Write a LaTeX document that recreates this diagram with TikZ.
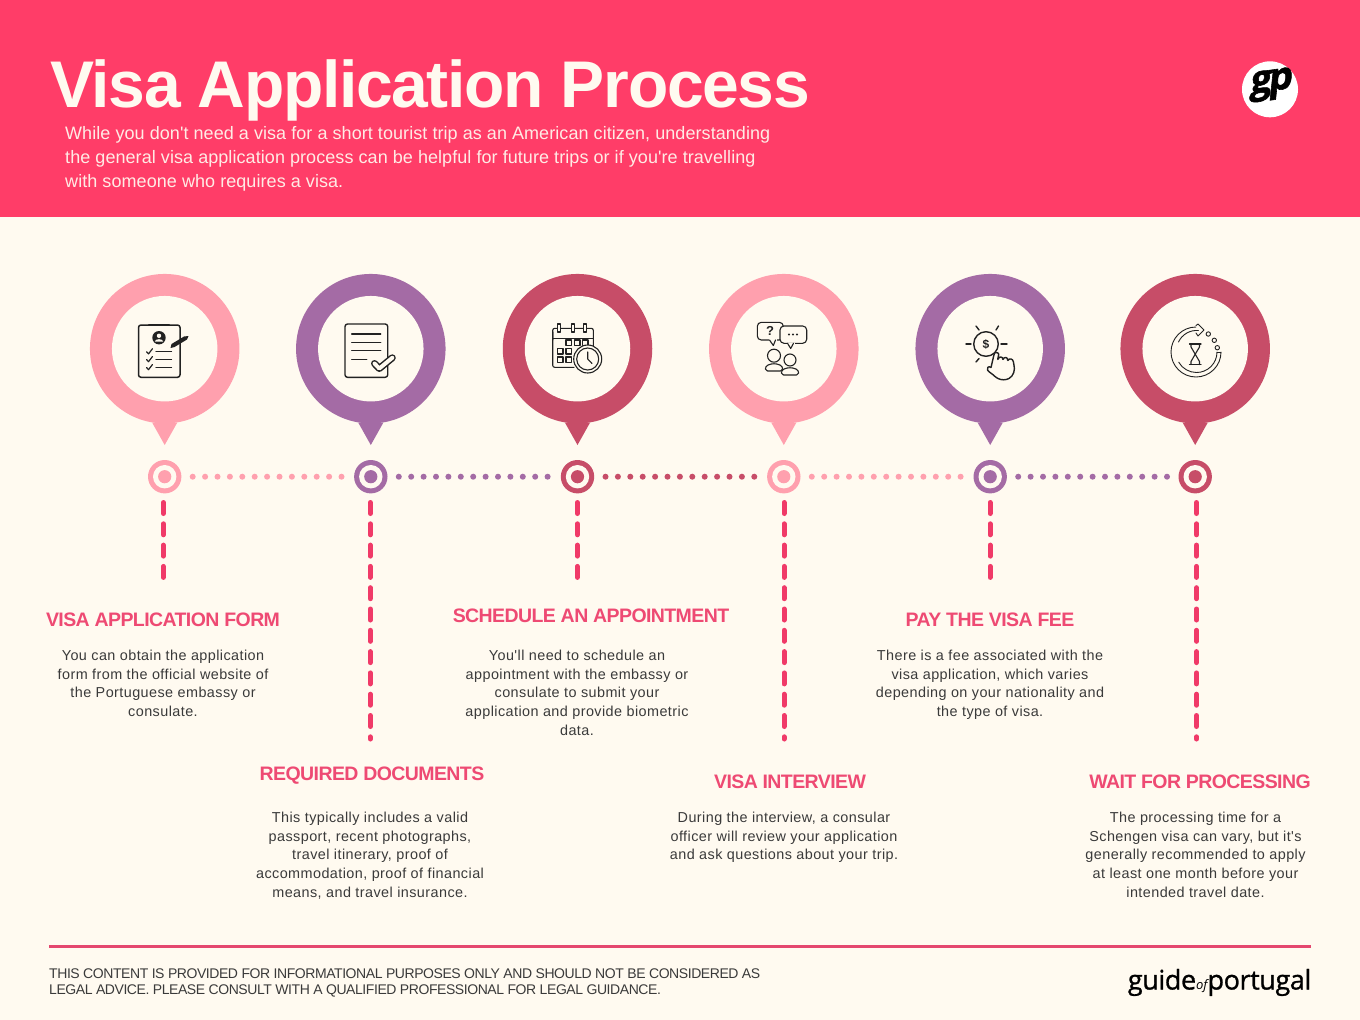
\documentclass[tikz,border=0pt]{standalone}
\usepackage{fontspec}
\usetikzlibrary{calc}
\setmainfont{Liberation Sans}
\newfontfamily\titlef{Liberation Sans Bold}[LetterSpace=-2]
\newfontfamily\headf{Liberation Sans Bold}[LetterSpace=-3]
\newfontfamily\introf{Liberation Sans}[LetterSpace=0.4]
\newfontfamily\bodyf{Liberation Sans}[LetterSpace=3]
\newfontfamily\footf{Liberation Sans}[LetterSpace=-3.1]
\newfontfamily\markf{Open Sans}[FakeBold=1,LetterSpace=-1.5]
\newfontfamily\markof{Open Sans Italic}
\newfontfamily\logof{Open Sans Bold}[FakeSlant=0.25,FakeBold=1.5,LetterSpace=-8]
\definecolor{hdr}{HTML}{FF3D68}
\definecolor{paper}{HTML}{FFFAF0}
\definecolor{pinkc}{HTML}{FFA0AE}
\definecolor{purpc}{HTML}{A46BA5}
\definecolor{rosec}{HTML}{C74D68}
\definecolor{dashc}{HTML}{F03A68}
\definecolor{headc}{HTML}{EE4A73}
\definecolor{bodyc}{HTML}{3A3A3A}
\definecolor{rulec}{HTML}{E4476F}
\definecolor{inkc}{HTML}{222222}
\tikzset{
 x=1pt,y=-1pt,
 pinout/.style={circle,minimum size=149.5pt,inner sep=0pt,fill=#1},
 pinin/.style={circle,minimum size=105.5pt,inner sep=0pt,fill=paper},
 stopout/.style={circle,minimum size=33.4pt,inner sep=0pt,fill=#1},
 stopring/.style={circle,minimum size=23.4pt,inner sep=0pt,fill=paper},
 stopdot/.style={circle,minimum size=13.2pt,inner sep=0pt,fill=#1},
 dotline/.style={line width=6pt,line cap=round,dash pattern=on 0pt off 12.4pt,shorten <=28pt,shorten >=28pt,draw=#1},
 dashline/.style={line width=5pt,line cap=round,dash pattern=on 11pt off 10.3pt,shorten <=25.8pt,draw=dashc},
 headtext/.style={inner sep=0pt,anchor=base,text=headc,font=\headf\fontsize{19.5}{24}\selectfont},
 bodytext/.style={inner sep=0pt,anchor=north,align=center,text=bodyc,font=\bodyf\fontsize{14.4}{18.8}\selectfont},
 ico/.style={draw=inkc,line width=1.4pt,line cap=round,line join=round},
 icothin/.style={draw=inkc,line width=1.1pt,line cap=round,line join=round},
}
\newcommand{\stepmark}[3]{%
 \node[pinout=#3] (p#1) at (#2,348.7) {};
 \fill[#3] ($(p#1.center)+(-12.5,74)$) -- ($(p#1.center)+(0,96.3)$) -- ($(p#1.center)+(12.5,74)$) -- cycle;
 \node[pinin] (q#1) at (p#1.center) {};
 \node[stopout=#3] (t#1) at (#2,476.7) {};
 \node[stopring] (r#1) at (t#1.center) {};
 \node[stopdot=#3] (d#1) at (t#1.center) {};
}
\newcommand{\fs}{\rule{0pt}{12pt}}
\begin{document}
\begin{tikzpicture}
\useasboundingbox (0,0) rectangle (1360,1020);
\fill[paper] (0,0) rectangle (1360,1020);
\fill[hdr] (0,0) rectangle (1360,216.5);

\node[anchor=base west,inner sep=0pt,text=paper,font=\titlef\fontsize{66}{70}\selectfont] (title) at (50,107.5) {Visa Application Process};
\node[anchor=north west,inner sep=0pt,align=left,text=paper!92!hdr,font=\introf\fontsize{18}{24}\selectfont] (intro) at (65,125) {\rule{0pt}{14pt}While you don't need a visa for a short tourist trip as an American citizen, understanding\\the general visa application process can be helpful for future trips or if you're travelling\\with someone who requires a visa.};

\node[circle,minimum size=56pt,inner sep=0pt,fill=white] (logo) at (1270,89.3) {};
\node[inner sep=0pt,text=black,font=\logof\fontsize{38}{38}\selectfont,rotate=8] (logotext) at (1270,85) {gp};

\stepmark{1}{164.7}{pinkc}
\stepmark{2}{370.8}{purpc}
\stepmark{3}{577.5}{rosec}
\stepmark{4}{783.8}{pinkc}
\stepmark{5}{990.2}{purpc}
\stepmark{6}{1195.2}{rosec}

\draw[dotline=pinkc] (t1.center) -- (t2.center);
\draw[dotline=purpc] (t2.center) -- (t3.center);
\draw[dotline=rosec] (t3.center) -- (t4.center);
\draw[dotline=pinkc] (t4.center) -- (t5.center);
\draw[dotline=purpc] (t5.center) -- (t6.center);

\coordinate (e1) at (163.3,577.5);
\coordinate (e2) at (370.2,739);
\coordinate (e3) at (577.3,577.5);
\coordinate (e4) at (784,739);
\coordinate (e5) at (990,577.5);
\coordinate (e6) at (1196.5,739);
\foreach \i in {1,...,6} \draw[dashline] (t\i -| e\i) -- (e\i);

% icon 1: clipboard
\draw[ico,rounded corners=2.5pt,line width=1.5pt] (138.5,325) rectangle (180,377.3);
\draw[ico,line width=2.4pt] (149,325) -- (169,325);
\fill[inkc] (159,337.7) circle[radius=6.7];
\fill[paper] (159,335.8) circle[radius=2.2];
\fill[paper] (154.8,341.5) .. controls (155.5,338.4) and (162.5,338.4) .. (163.2,341.5) -- cycle;
\foreach \y in {351.7,359.5,367.5}{
 \draw[icothin,line width=1.2pt] (146.5,\y) -- (148.5,\y+2.2) -- (152.5,\y-3);
 \draw[icothin,line width=1.2pt] (156,\y) -- (171.5,\y);
}
\fill[inkc] (170.5,348) -- (171.5,344) -- (184,336.5) -- (188.5,336) -- (187,339.5) -- (174.5,347) -- cycle;

% icon 2: document
\draw[ico,rounded corners=2.5pt] (345,324) rectangle (387.7,377.3);
\foreach \y in {334,342.3,350.7}{\draw[icothin,line width=1.3pt] (351.7,\y) -- (380.7,\y);}
\draw[icothin,line width=1.3pt] (351.7,359.3) -- (366.7,359.3);
\draw[inkc,line width=7pt,line join=round,line cap=round] (374.5,363.5) -- (379.3,368.5) -- (392.3,357.8);
\draw[paper,line width=4pt,line join=round,line cap=round] (374.5,363.5) -- (379.3,368.5) -- (392.3,357.8);

% icon 3: calendar + clock
\draw[icothin,rounded corners=2pt] (552.7,332) -- (552.7,367.3) -- (574,367.3);
\draw[icothin,rounded corners=2pt] (552.7,340) -- (552.7,328.3) -- (593.3,328.3) -- (593.3,347);
\draw[icothin] (552.7,338.5) -- (593.3,338.5);
\foreach \x in {559.3,573.3,585.3}{\draw[fill=paper,icothin] (\x-1.5,324) rectangle (\x+1.5,332);}
\foreach \a/\b in {566/340,574.5/340,582.5/340,557.5/348.5,566/348.5,557.5/357,566/357}{
 \draw[icothin] (\a,\b) rectangle (\a+5.5,\b+5.5);}
\draw[icothin,fill=paper] (587.7,359) circle[radius=14];
\draw[icothin] (587.7,359) circle[radius=11];
\draw[icothin] (587.7,352) -- (587.7,359) -- (592,363.5);

% icon 4: speech bubbles + people
\draw[icothin,rounded corners=4pt] (757.3,322.3) rectangle (783.3,340);
\fill[paper] (769,339) rectangle (777,341.5);
\draw[icothin] (769.5,340) -- (773.3,345.5) -- (775.5,340);
\node[inner sep=0pt,text=inkc,font=\bfseries\fontsize{13}{13}\selectfont] (qmark) at (770,331) {?};
\draw[icothin,rounded corners=4pt,fill=paper] (780,326) rectangle (806.7,343.3);
\fill[paper] (787,342.5) rectangle (795,344.5);
\draw[icothin] (787.5,343.3) -- (790.7,348.5) -- (793.5,343.3);
\foreach \x in {789,793,797}{\fill[inkc] (\x,334.5) circle[radius=1.2];}
\draw[icothin] (774,355.7) circle[radius=6.5];
\draw[icothin,rounded corners=2pt] (765.5,371) .. controls (765,362) and (783,362) .. (782.5,371) -- cycle;
\fill[paper] (790,360) circle[radius=7.4];
\draw[icothin] (790,360) circle[radius=6];
\draw[icothin,fill=paper,rounded corners=2pt] (781.5,375) .. controls (781,366) and (799,366) .. (798.5,375) -- cycle;

% icon 5: coin and hand
\draw[ico] (986,344) circle[radius=12.3];
\node[inner sep=0pt,text=inkc,font=\bfseries\fontsize{12}{12}\selectfont] (dollar) at (986,344.3) {\$};
\draw[ico] (966,344) -- (971,344);
\draw[ico] (1001,344) -- (1007,344);
\draw[ico] (976,326) -- (979,330);
\draw[ico] (996,330) -- (998.5,326);
\draw[ico] (976,362) -- (979,358.5);
\draw[ico,fill=paper,rounded corners=1.2pt] (991,367.5) -- (994,354.5) .. controls (995,352) and (999,352.5) .. (998.5,355.5) -- (997.5,360.5)
 .. controls (999,356) and (1003,356.5) .. (1002.8,360.5) .. controls (1004,356.5) and (1008,357) .. (1007.6,361.5)
 .. controls (1009,358) and (1013,358.5) .. (1013.5,363) .. controls (1015.5,370) and (1013.5,376) .. (1008,379)
 .. controls (1003,380.5) and (998,379.5) .. (994,375.5) -- (988,371) .. controls (986.5,368) and (988.5,365.5) .. (991,367.5);

% icon 6: circular arrow and hourglass
\draw[icothin,line width=.9pt] (1221,352) arc[start angle=0,end angle=270,radius=25] ;
\draw[icothin,line width=.9pt] (1217,352) arc[start angle=0,end angle=150,radius=20.5];
\draw[icothin,line width=.9pt] (1178.5,342) arc[start angle=205,end angle=275,radius=20];
\draw[icothin,line width=.9pt] (1221,352) -- (1217,352);
\draw[icothin,line width=.9pt] (1196,325.5) -- (1198,324) -- (1204,330) -- (1198,336) -- (1196,333);
\foreach \a/\b in {1208.3/334,1214.3/340.3,1217.3/347.7}{\draw[icothin,line width=.9pt] (\a,\b) circle[radius=2.2];}
\draw[icothin] (1189.5,344) -- (1201,344);
\draw[icothin] (1189.5,364.5) -- (1201,364.5);
\draw[icothin] (1191,344) -- (1191,347) -- (1195.2,354.2) -- (1191,361.5) -- (1191,364.5);
\draw[icothin] (1199.5,344) -- (1199.5,347) -- (1195.2,354.2) -- (1199.5,361.5) -- (1199.5,364.5);

% cards
\node[headtext] (h1) at (163,626) {VISA APPLICATION FORM};
\node[bodytext] (b1) at (163,648) {\fs You can obtain the application\\form from the official website of\\the Portuguese embassy or\\consulate.};
\node[headtext] (h2) at (372,780.5) {REQUIRED DOCUMENTS};
\node[bodytext] (b2) at (370,810) {\fs This typically includes a valid\\passport, recent photographs,\\travel itinerary, proof of\\accommodation, proof of financial\\means, and travel insurance.};
\node[headtext] (h3) at (591,622) {SCHEDULE AN APPOINTMENT};
\node[bodytext] (b3) at (577,648) {\fs You'll need to schedule an\\appointment with the embassy or\\consulate to submit your\\application and provide biometric\\data.};
\node[headtext] (h4) at (790,788) {VISA INTERVIEW};
\node[bodytext] (b4) at (784,810) {\fs During the interview, a consular\\officer will review your application\\and ask questions about your trip.};
\node[headtext] (h5) at (990,626) {PAY THE VISA FEE};
\node[bodytext] (b5) at (990,648) {\fs There is a fee associated with the\\visa application, which varies\\depending on your nationality and\\the type of visa.};
\node[headtext] (h6) at (1200,788) {WAIT FOR PROCESSING};
\node[bodytext] (b6) at (1195.5,810) {\fs The processing time for a\\Schengen visa can vary, but it's\\generally recommended to apply\\at least one month before your\\intended travel date.};

% footer
\coordinate (f1) at (49,946.5);
\coordinate (f2) at (1311,946.5);
\draw[rulec,line width=3pt] (f1) -- (f2);
\node[anchor=north west,inner sep=0pt,align=left,text=bodyc,font=\footf\fontsize{14}{15.5}\selectfont] (disc) at (49,967) {\rule{0pt}{11.5pt}THIS CONTENT IS PROVIDED FOR INFORMATIONAL PURPOSES ONLY AND SHOULD NOT BE CONSIDERED AS\\LEGAL ADVICE. PLEASE CONSULT WITH A QUALIFIED PROFESSIONAL FOR LEGAL GUIDANCE.};
\node[anchor=base east,inner sep=0pt,text=black,font=\markf\fontsize{27}{30}\selectfont] (mark) at (1311.5,989.5) {guide{\markof\fontsize{13}{14}\selectfont of}portugal};
\end{tikzpicture}
\end{document}
